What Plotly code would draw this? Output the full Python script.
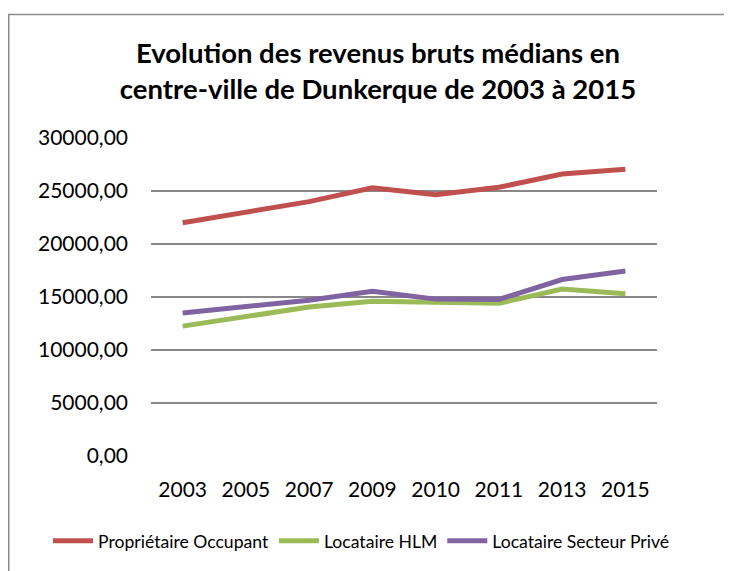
import plotly.graph_objects as go

years = ["2003", "2005", "2007", "2009", "2010", "2011", "2013", "2015"]
proprietaire = [22000, 23000, 24000, 25300, 24650, 25350, 26600, 27050]
hlm = [12250, 13200, 14050, 14600, 14450, 14400, 15750, 15300]
prive = [13500, 14050, 14700, 15550, 14800, 14770, 16650, 17450]

series = [
    ("Propriétaire Occupant", proprietaire, "#C0504D"),
    ("Locataire HLM", hlm, "#9BBB59"),
    ("Locataire Secteur Privé", prive, "#8064A2"),
]

fig = go.Figure()
for name, vals, color in series:
    fig.add_trace(go.Scatter(x=years, y=vals, name=name, mode="lines",
                             line=dict(color=color, width=5)))

W, H = 724, 563
L, R, T, B = 143, 75, 130, 111
PW, PH = W - L - R, H - T - B

fig.update_layout(
    width=W, height=H,
    margin=dict(l=L, r=R, t=T, b=B),
    paper_bgcolor="white", plot_bgcolor="white",
    separators=", ",
    font=dict(family="Lato, 'Open Sans', sans-serif", color="#000000"),
    title=dict(text="<b>Evolution des revenus bruts médians en<br>centre-ville de Dunkerque de 2003 à 2015</b>",
               x=0.511, xanchor="center", y=0.902, yanchor="middle",
               font=dict(size=27.5, family="Lato, sans-serif", color="#000000")),
    xaxis=dict(type="category", range=[-0.5, 7.5], showgrid=False, showline=False,
               ticks="", tickfont=dict(size=21), ticklabelstandoff=19, zeroline=False),
    yaxis=dict(range=[0, 30000], dtick=5000, tickformat=".2f", showgrid=True,
               gridcolor="#888888", gridwidth=1.5, zeroline=False, showline=False,
               ticks="", tickfont=dict(size=21), ticklabelstandoff=22),
    legend=dict(orientation="h", x=(40 - L) / PW, xanchor="left",
                y=-0.267, yanchor="middle",
                font=dict(size=17.6), itemwidth=40, tracegroupgap=0),
    showlegend=True,
)
# chart border (partly outside the photographed area)
fig.add_shape(type="rect", xref="paper", yref="paper",
              x0=(0.75 - L) / PW, x1=2.0, y0=-1.0, y1=(PH + T - 5) / PH,
              line=dict(color="#8c8c8c", width=1.5), fillcolor="rgba(0,0,0,0)", layer="below")

fig.write_html("out.html")
